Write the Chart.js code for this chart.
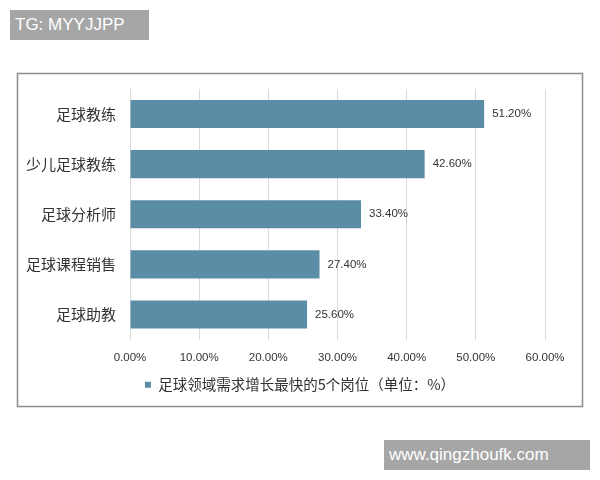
<!DOCTYPE html>
<html><head><meta charset="utf-8">
<script src="https://cdn.jsdelivr.net/npm/chart.js@4.4.1/dist/chart.umd.min.js"></script>
<style>
html,body{margin:0;padding:0;background:#fff;}
#wrap{position:relative;width:600px;height:480px;}
canvas{position:absolute;left:0;top:0;}
.wm{position:absolute;background:#a6a6a6;color:#fff;font-family:"Liberation Sans",Arial,sans-serif;font-size:17px;line-height:30px;padding:0 0 0 5px;box-sizing:border-box;}
</style></head>
<body>
<div id="wrap">
<canvas id="c" width="600" height="480"></canvas>
<div class="wm" style="left:10px;top:10px;width:139px;height:30px;">TG: MYYJJPP</div>
<div class="wm" style="left:384px;top:440px;width:206px;height:30px;">www.qingzhoufk.com</div>
</div>
<script>
const categories = ["足球教练","少儿足球教练","足球分析师","足球课程销售","足球助教"];
const values = [51.2, 42.6, 33.4, 27.4, 25.6];
const seriesName = "足球领域需求增长最快的5个岗位（单位：%）";
const xTicks = [0,10,20,30,40,50,60];

const barColor = "#5b8ea6";
const cjk = '"Noto Sans CJK SC","Noto Sans",sans-serif';
const latin = '"Liberation Sans",Arial,sans-serif';

const framePlugin = {
  id:'frame',
  afterLayout(chart){
    if (chart.legend){ chart.legend.left += 27.5; chart.legend.right += 27.5; }
  },
  beforeDraw(chart){
    const ctx = chart.ctx;
    ctx.save();
    ctx.fillStyle = '#fff';
    ctx.fillRect(0,0,chart.width,chart.height);
    ctx.strokeStyle = '#8c8c8c';
    ctx.lineWidth = 1.5;
    ctx.strokeRect(17.5,73.5,565,333);
    ctx.restore();
  }
};
const labelPlugin = {
  id:'dlabels',
  afterDatasetsDraw(chart){
    const ctx = chart.ctx;
    const meta = chart.getDatasetMeta(0);
    ctx.save();
    ctx.font = '11.5px ' + latin;
    ctx.fillStyle = '#333';
    ctx.textBaseline = 'middle';
    ctx.textAlign = 'left';
    meta.data.forEach((el,i)=>{
      ctx.fillText(values[i].toFixed(2)+'%', el.x + 8, el.y);
    });
    ctx.restore();
  }
};

new Chart(document.getElementById('c'), {
  type:'bar',
  data:{
    labels: categories,
    datasets:[{
      label: seriesName,
      data: values,
      backgroundColor: barColor,
      borderWidth:0,
      barPercentage:0.56,
      categoryPercentage:1.0
    }]
  },
  options:{
    indexAxis:'y',
    responsive:false,
    animation:false,
    devicePixelRatio:1,
    layout:{padding:{left:0,right:55,top:89,bottom:78}},
    scales:{
      x:{
        min:0,max:60,
        afterBuildTicks(scale){ scale.ticks = xTicks.map(v=>({value:v})); },
        ticks:{
          callback:(v)=>Number(v).toFixed(2)+'%',
          font:{family:latin,size:11.5},
          color:'#333',
          padding:11,
          maxRotation:0
        },
        grid:{color:'#d9d9d9',drawTicks:false,lineWidth:1},
        border:{display:false},
        afterFit(scale){ scale.height = 32; }
      },
      y:{
        ticks:{font:{family:cjk,size:15},color:'#333',padding:6},
        grid:{display:false},
        border:{display:false},
        afterFit(scale){ scale.width = 130; }
      }
    },
    plugins:{
      legend:{
        position:'bottom',
        labels:{
          boxWidth:6,boxHeight:6,
          font:{family:cjk,size:14.5},
          color:'#333',
          padding:6
        }
      },
      tooltip:{enabled:false}
    }
  },
  plugins:[framePlugin,labelPlugin]
});
</script>
</body></html>
